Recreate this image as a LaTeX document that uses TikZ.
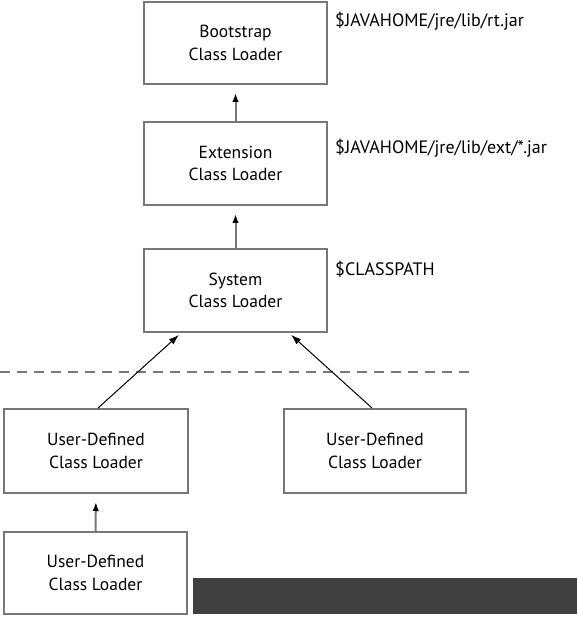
\documentclass[tikz,border=0pt]{standalone}
\usepackage{fontspec}
\setmainfont{PT Sans}
\usetikzlibrary{arrows.meta,calc}
\definecolor{boxgray}{HTML}{777777}
\definecolor{darkbar}{HTML}{404040}
\begin{document}
\begin{tikzpicture}[x=1pt,y=-1pt,
  loader/.style={draw=boxgray,line width=2pt,fill=white,align=center,inner sep=0pt,
    font=\fontsize{17.5}{22.5}\selectfont,minimum width=#1},
  loader/.default=183pt,
  uparrow/.style={draw=boxgray,line width=2pt,-{Latex[length=9pt,width=6.5pt,color=black]},shorten >=8pt},
  diagarrow/.style={draw=black,line width=1pt,-{Latex[length=10pt,width=7pt]},shorten >=3pt},
  pathlabel/.style={anchor=west,inner sep=0pt,font=\fontsize{18}{20}\selectfont}]
\useasboundingbox (0,0) rectangle (577,617);
\node[loader,minimum height=82pt] (boot) at (235.5,43) {Bootstrap\\Class Loader};
\node[loader,minimum height=83pt] (ext) at (235.5,163.5) {Extension\\Class Loader};
\node[loader,minimum height=83pt] (sys) at (235.5,290.5) {System\\Class Loader};
\node[loader=184pt,minimum height=84pt] (udl) at (96,451) {User-Defined\\Class Loader};
\node[loader=182pt,minimum height=84pt] (udr) at (375,451) {User-Defined\\Class Loader};
\node[loader=183pt,minimum height=82pt] (udb) at (95.5,573) {User-Defined\\Class Loader};
\node[fill=darkbar,inner sep=0pt,minimum width=384pt,minimum height=36pt,anchor=north west] (bar) at (193,578) {};
\node[pathlabel] (lboot) at (335,21) {\$JAVAHOME/jre/lib/rt.jar};
\node[pathlabel] (lext) at (335,148) {\$JAVAHOME/jre/lib/ext/*.jar};
\node[pathlabel] (lsys) at (335,269) {\$CLASSPATH};
\coordinate (dl) at (0,372);
\coordinate (dr) at (473,372);
\draw[boxgray,line width=1.2pt,dash pattern=on 10pt off 7pt] (dl) -- (dr);
\draw[uparrow] (ext.north) -- (boot.south);
\draw[uparrow] (sys.north) -- (ext.south);
\draw[uparrow] (udb.north) -- (udl.north |- udl.south);
\coordinate (sysl) at ($(sys.south west)+(38,0)$);
\coordinate (sysr) at ($(sys.south east)+(-39,0)$);
\coordinate (udlt) at ($(udl.north)+(2,0)$);
\coordinate (udrt) at ($(udr.north)+(-3,0)$);
\draw[diagarrow] (udlt) -- (sysl);
\draw[diagarrow] (udrt) -- (sysr);
\end{tikzpicture}
\end{document}
